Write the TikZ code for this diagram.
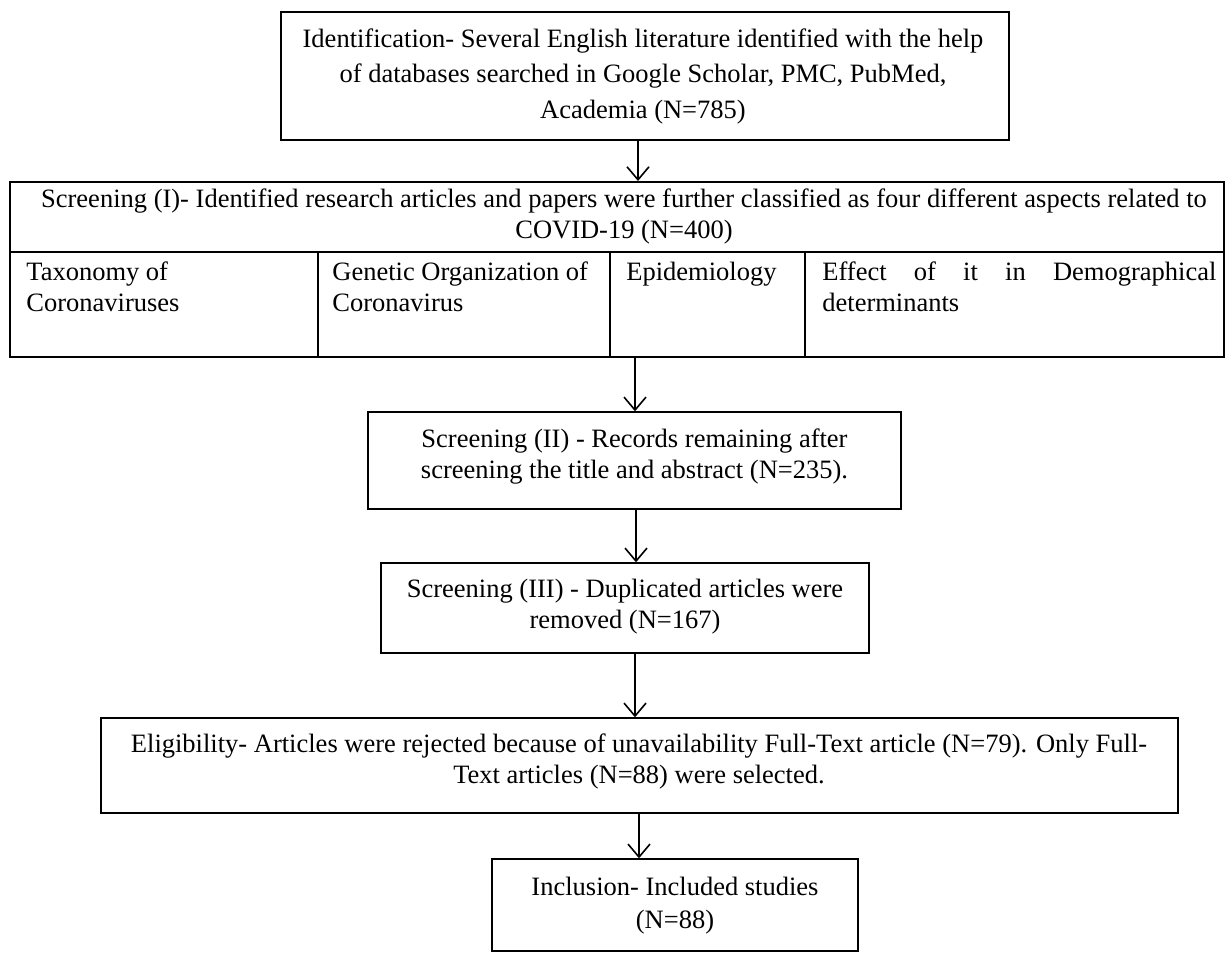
\documentclass[tikz,border=0pt]{standalone}
\usepackage{fontspec}
\setmainfont{Liberation Serif}
\usetikzlibrary{arrows.meta,fit}
\begin{document}
\begin{tikzpicture}[x=0.5pt,y=-0.5pt,
  box/.style={draw=black, line width=0.7pt, inner sep=0pt},
  tbl/.style={draw=black, line width=1pt, inner sep=0pt},
  tline/.style={draw=black, line width=1pt},
  txt/.style={inner sep=0pt, anchor=north, align=center, font=\fontsize{13.25pt}{15.5pt}\selectfont},
  txtwide/.style={txt, font=\fontsize{13.25pt}{17.75pt}\selectfont},
  txtinc/.style={txt, font=\fontsize{13.25pt}{16.5pt}\selectfont},
  cell/.style={inner sep=0pt, anchor=north west, align=left, font=\fontsize{13.25pt}{15.5pt}\selectfont},
  arr/.style={line width=0.8pt, -{Straight Barb[length=6.5pt,width=11pt]}}]
\useasboundingbox (0,0) rectangle (1227,955);
\fill[white] (0,0) rectangle (1227,955);

% Identification
\node[box, fit={(281,12) (1009,140)}] (ident) {};
\node[txtwide] (identT) at (643,22.15) {\strut Identification- Several English literature identified with the help\\of databases searched in Google Scholar, PMC, PubMed,\\Academia (N=785)};

% Screening (I) table
\node[tbl, fit={(10,182) (1224,357)}] (scr1) {};
\coordinate (rowL) at (10,252);
\coordinate (rowR) at (1224,252);
\draw[tline] (rowL) -- (rowR);
\coordinate (d1) at (318,252);
\coordinate (d2) at (610,252);
\coordinate (d3) at (805,252);
\draw[tline] (d1) -- (scr1.south -| d1);
\draw[tline] (d2) -- (scr1.south -| d2);
\draw[tline] (d3) -- (scr1.south -| d3);
\node[txt] (scr1T) at (624,185.3) {\strut Screening (I)- Identified research articles and papers were further classified as four different aspects related to\\COVID-19 (N=400)};
\node[cell] (c1) at (26,258.3) {\strut Taxonomy of\\Coronaviruses};
\node[cell] (c2) at (332,258.3) {\strut Genetic Organization of\\Coronavirus};
\node[cell] (c3) at (626,258.3) {\strut Epidemiology};
\node[cell] (c4) at (822,258.3) {\strut\makebox[197pt][s]{Effect of it in Demographical}\\determinants};

% Screening (II)
\node[box, fit={(368,412) (901,509)}] (scr2) {};
\node[txt] (scr2T) at (634.5,425.3) {\strut Screening (II) - Records remaining after\\screening the title and abstract (N=235).};

% Screening (III)
\node[box, fit={(381,563) (869,653)}] (scr3) {};
\node[txt] (scr3T) at (625,575.3) {\strut Screening (III) - Duplicated articles were\\removed (N=167)};

% Eligibility
\node[box, fit={(101,718) (1178,813)}] (elig) {};
\node[txt] (eligT) at (639,730.3) {\strut Eligibility- Articles were rejected because of unavailability Full-Text article (N=79). Only Full-\\Text articles (N=88) were selected.};

% Inclusion
\node[box, fit={(492,859) (858,951)}] (incl) {};
\node[txtinc] (inclT) at (675,871.9) {\strut Inclusion- Included studies\\(N=88)};

% Arrows
\coordinate (a1) at (638,0);
\coordinate (a2) at (635,0);
\coordinate (a3) at (636,0);
\coordinate (a4) at (635,0);
\coordinate (a5) at (639,0);
\draw[arr] (ident.south -| a1) -- (scr1.north -| a1);
\draw[arr] (scr1.south -| a2) -- (scr2.north -| a2);
\draw[arr] (scr2.south -| a3) -- (scr3.north -| a3);
\draw[arr] (scr3.south -| a4) -- (elig.north -| a4);
\draw[arr] (elig.south -| a5) -- (incl.north -| a5);
\end{tikzpicture}
\end{document}
